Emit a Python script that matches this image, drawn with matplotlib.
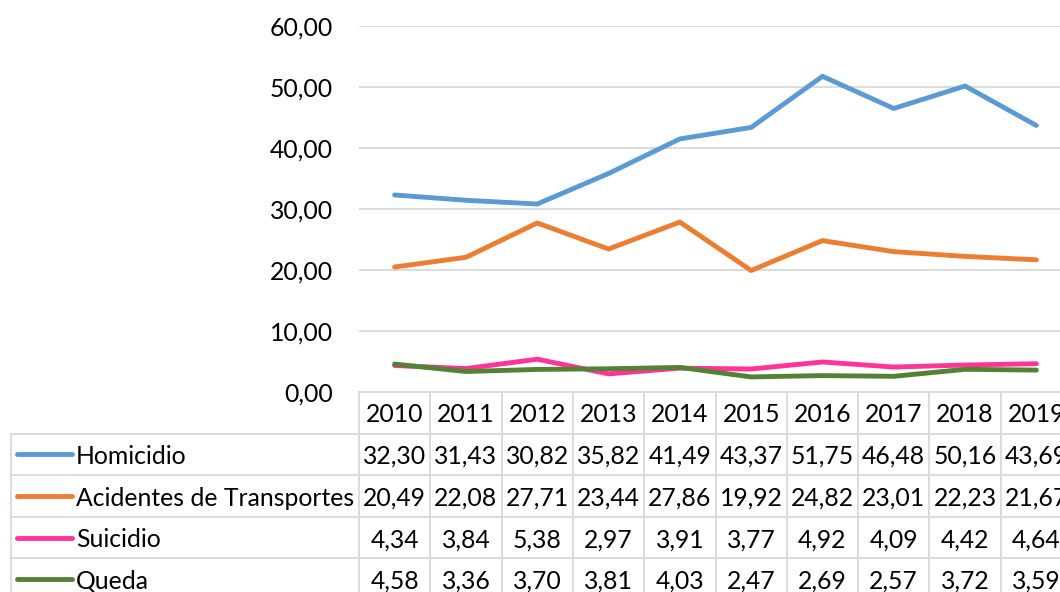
import matplotlib.pyplot as plt
import numpy as np

years = ['2010', '2011', '2012', '2013', '2014', '2015', '2016', '2017', '2018', '2019']
homicidio = [32.30, 31.43, 30.82, 35.82, 41.49, 43.37, 51.75, 46.48, 50.16, 43.69]
acidentes = [20.49, 22.08, 27.71, 23.44, 27.86, 19.92, 24.82, 23.01, 22.23, 21.67]
suicidio = [4.34, 3.84, 5.38, 2.97, 3.91, 3.77, 4.92, 4.09, 4.42, 4.64]
queda = [4.58, 3.36, 3.70, 3.81, 4.03, 2.47, 2.69, 2.57, 3.72, 3.59]

names = ['Homicidio', 'Acidentes de Transportes', 'Suicidio', 'Queda']
series = [homicidio, acidentes, suicidio, queda]
colors = ['#5B9BD5', '#ED7D31', '#FF3399', '#548235']


def fmt(v):
    return f'{v:.2f}'.replace('.', ',')


plt.rcParams['font.family'] = ['Lato', 'DejaVu Sans']
fs = 17.8
grid_c = '#D9D9D9'

W, H = 1060, 592
fig = plt.figure(figsize=(W / 100, H / 100), dpi=100)

# plot area (right side is cut off in the original)
col_w = 71.3
left_px = 359
ax = fig.add_axes([left_px / W, 1 - 392 / H, 10 * col_w / W, (392 - 26) / H])
x = np.arange(len(years))
for s, c in zip(series, colors):
    ax.plot(x, s, color=c, lw=3.5, solid_capstyle='round', solid_joinstyle='round')
ax.set_xlim(-0.5, 9.5)
ax.set_ylim(0, 60)
ax.set_yticks(np.arange(0, 61, 10))
ax.set_yticklabels([fmt(v) for v in np.arange(0, 61, 10)], fontsize=fs)
ax.set_xticks([])
ax.tick_params(axis='y', length=0, pad=19)
ax.grid(axis='y', color=grid_c, lw=1.3)
ax.set_axisbelow(True)
for sp in ax.spines.values():
    sp.set_visible(False)

# data table below
row_h = 41.6
n_rows = 5
tab_left_px = 11
x0 = -0.5 - (left_px - tab_left_px) / col_w
tax = fig.add_axes([tab_left_px / W, (H - 392 - n_rows * row_h) / H,
                    (left_px + 10 * col_w - tab_left_px) / W, n_rows * row_h / H])
tax.set_xlim(x0, 9.5)
tax.set_ylim(n_rows, 0)
tax.axis('off')

lkw = dict(color=grid_c, lw=1.3, clip_on=False)
tax.plot([-0.5, 9.5], [0, 0], **lkw)
for r in range(1, n_rows + 1):
    tax.plot([x0, 9.5], [r, r], **lkw)
tax.plot([x0, x0], [1, n_rows], **lkw)
for k in range(11):
    tax.plot([k - 0.5, k - 0.5], [0, n_rows], **lkw)

for k, yr in enumerate(years):
    tax.text(k, 0.55, yr, ha='center', va='center', fontsize=fs)

for i, (name, s, c) in enumerate(zip(names, series, colors)):
    yc = i + 1.55
    tax.plot([x0 + 6 / col_w, x0 + 61 / col_w], [yc - 0.05, yc - 0.05], color=c,
             lw=3.5, solid_capstyle='round')
    tax.text(x0 + 65 / col_w, yc, name, ha='left', va='center', fontsize=fs)
    for k, v in enumerate(s):
        tax.text(k, yc, fmt(v), ha='center', va='center', fontsize=fs)

fig.savefig('out.png', dpi=100)
